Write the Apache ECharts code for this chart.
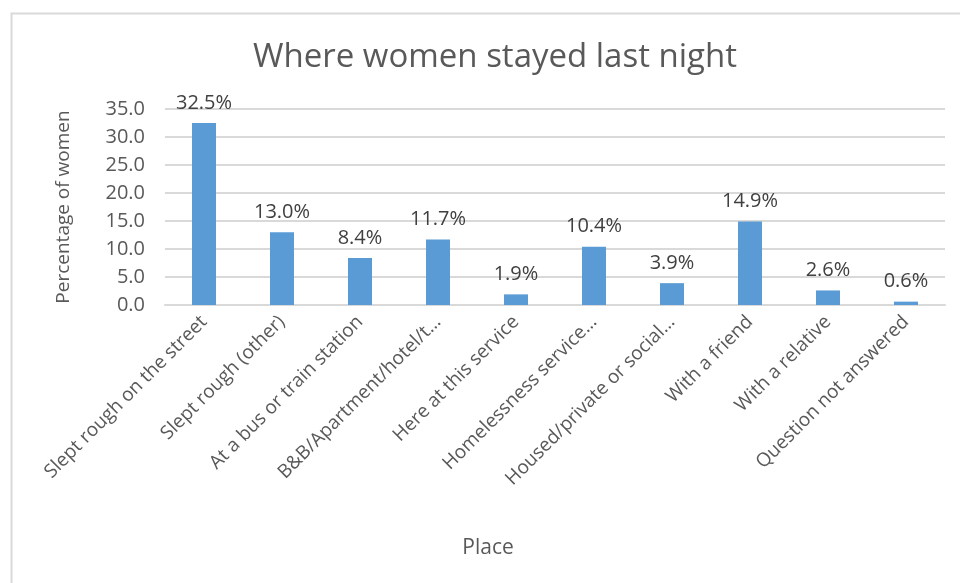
<!DOCTYPE html>
<html>
<head>
<meta charset="utf-8">
<script src="https://cdn.jsdelivr.net/npm/echarts@6/dist/echarts.min.js"></script>
<style>
html,body{margin:0;padding:0;background:#fff;}
#c{width:960px;height:583px;}
</style>
</head>
<body>
<div id="c"></div>
<script>
const categories = [
  "Slept rough on the street",
  "Slept rough (other)",
  "At a bus or train station",
  "B&B/Apartment/hotel/t…",
  "Here at this service",
  "Homelessness service…",
  "Housed/private or social…",
  "With a friend",
  "With a relative",
  "Question not answered"
];
const values = [32.5, 13.0, 8.4, 11.7, 1.9, 10.4, 3.9, 14.9, 2.6, 0.6];
const yTicks = { min: 0, max: 35, interval: 5 };

const font = "'Open Sans', sans-serif";
const chart = echarts.init(document.getElementById('c'), null, {renderer: 'canvas'});
chart.setOption({
  backgroundColor: '#fff',
  animation: false,
  graphic: [{
    type: 'rect', left: 9, top: 11,
    shape: { width: 1000, height: 1000 },
    style: { fill: 'none', stroke: '#D9D9D9', lineWidth: 2 },
    silent: true
  }, {
    type: 'text', x: 488, y: 548,
    style: { text: 'Place', fill: '#595959', font: "21px 'Open Sans', sans-serif",
             textAlign: 'center', textVerticalAlign: 'middle' },
    silent: true
  }],
  title: {
    text: 'Where women stayed last night',
    left: 490, top: 36, textAlign: 'center',
    textStyle: { fontFamily: font, fontSize: 33, fontWeight: 'normal', color: '#595959' }
  },
  grid: { left: 165, right: 15, top: 109, bottom: 278, containLabel: false },
  xAxis: {
    type: 'category',
    data: categories,
    axisLine: { lineStyle: { color: '#D9D9D9', width: 2 } },
    axisTick: { show: false },
    axisLabel: {
      rotate: 45, interval: 0, margin: 14,
      fontFamily: font, fontSize: 19, color: '#595959'
    }
  },
  yAxis: {
    type: 'value',
    min: yTicks.min, max: yTicks.max, interval: yTicks.interval,
    name: 'Percentage of women',
    nameLocation: 'middle',
    nameGap: 92,
    nameRotate: 90,
    nameTextStyle: { fontFamily: font, fontSize: 19, color: '#595959' },
    axisLine: { show: false },
    axisTick: { show: false },
    splitLine: { lineStyle: { color: '#D9D9D9', width: 2 } },
    axisLabel: {
      margin: 20,
      fontFamily: font, fontSize: 20, color: '#595959',
      formatter: v => v.toFixed(1)
    }
  },
  series: [{
    type: 'bar',
    data: values,
    barWidth: 24,
    itemStyle: { color: '#5B9BD5' },
    label: {
      show: true, position: 'top', distance: 10,
      fontFamily: font, fontSize: 20, color: '#404040',
      formatter: p => p.value.toFixed(1) + '%'
    }
  }]
});
</script>
</body>
</html>
